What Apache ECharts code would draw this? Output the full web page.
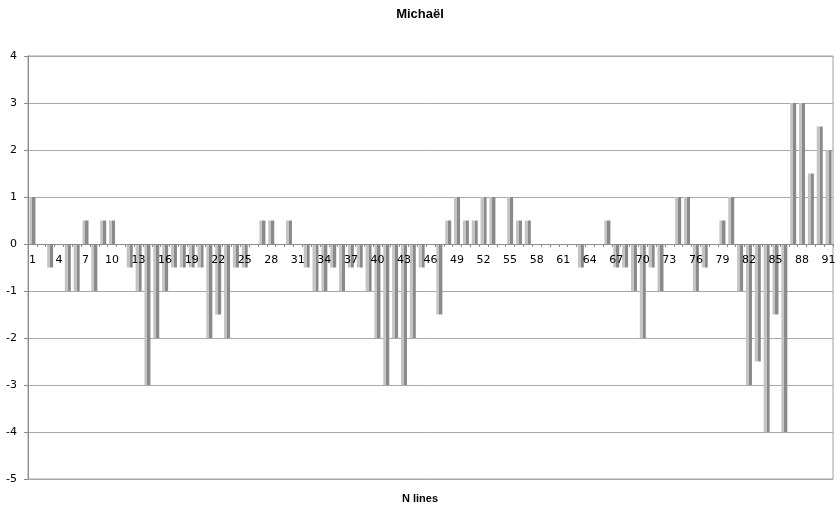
<!DOCTYPE html>
<html>
<head>
<meta charset="utf-8">
<script src="https://cdn.jsdelivr.net/npm/echarts@6/dist/echarts.min.js"></script>
<style>
html,body{margin:0;padding:0;background:#fff;}
#chart{width:840px;height:507px;}
</style>
</head>
<body>
<div id="chart"></div>
<script>
var titleText = 'Michaël';
var xAxisTitle = 'N lines';
var categories = [];
for (var i = 1; i <= 91; i++) categories.push(String(i));
var values = [
  1, 0, -0.5, 0, -1, -1, 0.5, -1, 0.5, 0.5,
  0, -0.5, -1, -3, -2, -1, -0.5, -0.5, -0.5, -0.5,
  -2, -1.5, -2, -0.5, -0.5, 0, 0.5, 0.5, 0, 0.5,
  0, -0.5, -1, -1, -0.5, -1, -0.5, -0.5, -1, -2,
  -3, -2, -3, -2, -0.5, 0, -1.5, 0.5, 1, 0.5,
  0.5, 1, 1, 0, 1, 0.5, 0.5, 0, 0, 0,
  0, 0, -0.5, 0, 0, 0.5, -0.5, -0.5, -1, -2,
  -0.5, -1, 0, 1, 1, -1, -0.5, 0, 0.5, 1,
  -1, -3, -2.5, -4, -1.5, -4, 3, 3, 1.5, 2.5,
  2
];
var yTicks = [-5, -4, -3, -2, -1, 0, 1, 2, 3, 4];

var gridTop = 56, gridBottom = 28, H = 507;
var plotH = H - gridTop - gridBottom;
var yMin = yTicks[0], yMax = yTicks[yTicks.length - 1];
// distance (px) from plot bottom to the zero line, so the category axis sits on y = 0
var zeroOffset = -plotH * (0 - yMin) / (yMax - yMin);

var chart = echarts.init(document.getElementById('chart'));
var barFill = new echarts.graphic.LinearGradient(0, 0, 1, 0, [
  {offset: 0, color: '#c4c4c4'},
  {offset: 0.5, color: '#c4c4c4'},
  {offset: 0.5, color: '#8a8a8a'},
  {offset: 1, color: '#8a8a8a'}
]);
chart.setOption({
  animation: false,
  backgroundColor: '#ffffff',
  title: [
    {text: titleText, left: 'center', top: 3,
     textStyle: {fontFamily: 'Liberation Sans', fontWeight: 'bold', fontSize: 13, color: '#000'}},
    {text: xAxisTitle, left: 'center', top: 488,
     textStyle: {fontFamily: 'Liberation Sans', fontWeight: 'bold', fontSize: 11, color: '#000'}}
  ],
  grid: {left: 28, right: 7, top: gridTop, bottom: gridBottom, show: true, borderColor: '#a0a0a0', borderWidth: 1},
  xAxis: {
    type: 'category',
    data: categories,
    position: 'bottom',
    offset: zeroOffset,
    z: 5,
    axisLine: {onZero: false, lineStyle: {color: '#8c8c8c', width: 1}},
    axisTick: {show: true, interval: 0, length: 3, lineStyle: {color: '#8c8c8c'}},
    axisLabel: {interval: 2, margin: 11, fontFamily: 'DejaVu Sans', fontSize: 11, color: '#000'},
    splitLine: {show: false}
  },
  yAxis: {
    type: 'value',
    min: yMin,
    max: yMax,
    interval: 1,
    axisLine: {show: true, lineStyle: {color: '#8c8c8c'}},
    axisTick: {show: true, length: 4, lineStyle: {color: '#8c8c8c'}},
    axisLabel: {margin: 11, fontFamily: 'DejaVu Sans', fontSize: 11, color: '#000'},
    splitLine: {show: true, lineStyle: {color: '#a8a8a8', width: 1}}
  },
  series: [{
    type: 'bar',
    data: values,
    barWidth: 6,
    itemStyle: {color: barFill}
  }]
});
</script>
</body>
</html>
